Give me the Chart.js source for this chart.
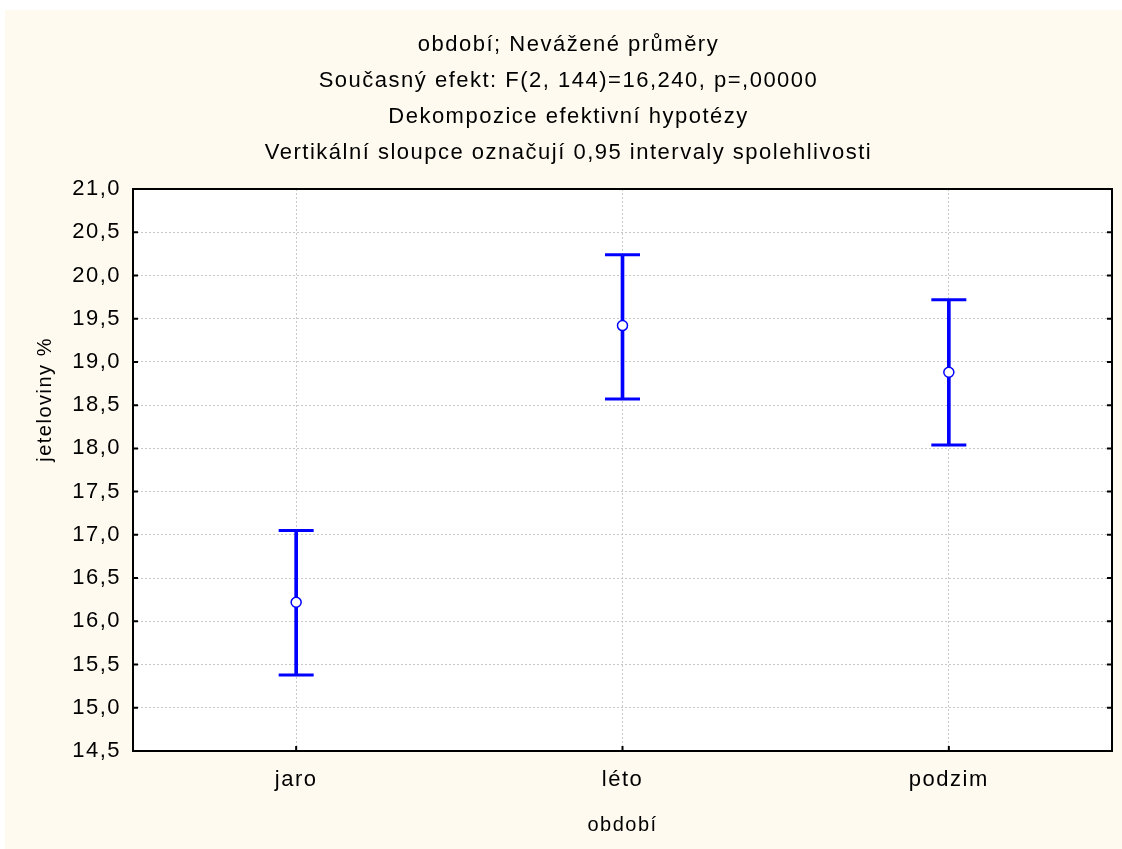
<!DOCTYPE html>
<html>
  <head>
    <title>období</title>
    <style>
      body {
        margin: 0;
        background: #fff;
      }

      #wrap {
        position: absolute;
        left: 5px;
        top: 10px;
        width: 1117px;
        height: 839px;
        background: #fefaef;
      }
    </style>
  </head>
  <body>
    <div id="wrap">
      <canvas id="chart" width="1117" height="839"></canvas>
    </div>
    <script src="https://cdn.jsdelivr.net/npm/chart.js@4.4.0/dist/chart.umd.min.js"></script>
    <script>
      const categories = ['jaro', 'léto', 'podzim'];
      const means = [16.22, 19.42, 18.88];
      const lower = [15.38, 18.57, 18.04];
      const upper = [17.05, 20.24, 19.72];
      const yTicks = [14.5, 15.0, 15.5, 16.0, 16.5, 17.0, 17.5, 18.0, 18.5, 19.0, 19.5, 20.0, 20.5, 21.0];
      const titleLines = [
        'období; Nevážené průměry',
        'Současný efekt: F(2, 144)=16,240, p=,00000',
        'Dekompozice efektivní hypotézy',
        'Vertikální sloupce označují 0,95 intervaly spolehlivosti'
      ];
      const xTitle = 'období';
      const yTitle = 'jeteloviny %';

      const blue = '#0000ff';
      const fontFamily = "'Liberation Sans', Arial, sans-serif";

      // the original text is spaced a little wider than plain Arial
      const spacingPlugin = {
        id: 'spacing',
        beforeLayout(chart) {
          chart.ctx.letterSpacing = '1.5px';
        },
        beforeDraw(chart) {
          chart.ctx.letterSpacing = '1.5px';
        }
      };

      // white plot area, black frame and the small inward tick marks
      const framePlugin = {
        id: 'frame',
        beforeDraw(chart) {
          const {ctx, chartArea: a} = chart;
          ctx.save();
          ctx.fillStyle = '#fff';
          ctx.fillRect(a.left, a.top, a.right - a.left, a.bottom - a.top);
          ctx.restore();
        },
        afterDraw(chart) {
          const {ctx, chartArea: a, scales} = chart;
          ctx.save();
          ctx.strokeStyle = '#000';
          ctx.lineWidth = 2;
          ctx.beginPath();
          scales.y.ticks.forEach(t => {
            const py = scales.y.getPixelForValue(t.value);
            ctx.moveTo(a.left, py);
            ctx.lineTo(a.left + 5, py);
            ctx.moveTo(a.right, py);
            ctx.lineTo(a.right - 5, py);
          });
          categories.forEach((c, i) => {
            const px = scales.x.getPixelForValue(i);
            ctx.moveTo(px, a.bottom);
            ctx.lineTo(px, a.bottom - 5);
          });
          ctx.stroke();
          ctx.strokeRect(a.left, a.top, a.right - a.left, a.bottom - a.top);
          ctx.restore();
        }
      };

      Chart.defaults.font.family = fontFamily;
      Chart.defaults.color = '#000';

      const ctx = document.getElementById('chart').getContext('2d');
      const chart = new Chart(ctx, {
        type: 'bar',
        data: {
          labels: categories,
          datasets: [
            {
              type: 'line',
              label: 'průměr',
              data: means,
              showLine: false,
              pointStyle: 'circle',
              pointRadius: 5,
              pointBackgroundColor: '#fff',
              pointBorderColor: blue,
              pointBorderWidth: 1.5,
              order: 0
            },
            {
              type: 'line',
              label: 'horní mez',
              data: upper,
              showLine: false,
              pointStyle: 'line',
              pointRadius: 17.5,
              pointBorderColor: blue,
              pointBorderWidth: 3,
              order: 1
            },
            {
              type: 'line',
              label: 'dolní mez',
              data: lower,
              showLine: false,
              pointStyle: 'line',
              pointRadius: 17.5,
              pointBorderColor: blue,
              pointBorderWidth: 3,
              order: 1
            },
            {
              label: 'interval',
              data: lower.map((lo, i) => [lo, upper[i]]),
              backgroundColor: blue,
              borderWidth: 0,
              barThickness: 3,
              order: 2
            }
          ]
        },
        options: {
          responsive: false,
          animation: false,
          layout: {
            autoPadding: false,
            padding: {left: 20, right: 10, top: 0, bottom: 0}
          },
          plugins: {
            legend: {display: false},
            tooltip: {enabled: false},
            title: {
              display: true,
              text: titleLines,
              color: '#000',
              font: {size: 22, weight: 'normal', lineHeight: '36px'},
              padding: {top: 17, bottom: 18}
            }
          },
          scales: {
            x: {
              offset: true,
              grid: {
                offset: false,
                color: '#c8c8c8',
                drawTicks: false
              },
              border: {display: false, dash: [2, 2]},
              ticks: {
                padding: 16,
                font: {size: 22}
              },
              title: {
                display: true,
                text: xTitle,
                font: {size: 20},
                padding: {top: 0, bottom: 12}
              },
              afterFit(scale) {
                scale.height = 98;
                scale.paddingLeft = 0;
                scale.paddingRight = 0;
              }
            },
            y: {
              min: 14.5,
              max: 21,
              afterBuildTicks(scale) {
                scale.ticks = yTicks.map(v => ({value: v}));
              },
              grid: {
                color: '#c8c8c8',
                drawTicks: false
              },
              border: {display: false, dash: [2, 2]},
              ticks: {
                padding: 12,
                font: {size: 22},
                callback: v => v.toFixed(1).replace('.', ',')
              },
              title: {
                display: true,
                // leading blanks lift the label above the middle, as in the original
                text: yTitle.padStart(yTitle.length + 20, ' '),
                font: {size: 20},
                padding: {top: 8, bottom: 0}
              },
              afterFit(scale) {
                scale.width = 108;
              }
            }
          }
        },
        plugins: [spacingPlugin, framePlugin]
      });
    </script>
  </body>
</html>
